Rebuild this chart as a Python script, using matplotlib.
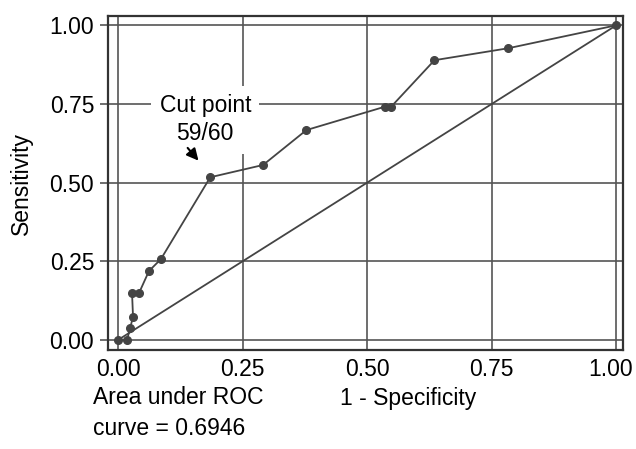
import matplotlib
matplotlib.use("Agg")
import matplotlib.pyplot as plt
import matplotlib.transforms as mtransforms

plt.rcParams["font.family"] = ["Liberation Sans", "DejaVu Sans"]

# ROC points
fpr = [0.0, 0.018, 0.024, 0.030, 0.028, 0.042, 0.062, 0.086,
       0.185, 0.291, 0.378, 0.535, 0.548, 0.635, 0.783, 1.0]
tpr = [0.0, 0.0, 0.037, 0.073, 0.149, 0.149, 0.219, 0.257,
       0.517, 0.556, 0.667, 0.741, 0.741, 0.889, 0.927, 1.0]
ticks = [0.0, 0.25, 0.5, 0.75, 1.0]
tick_labels = ["0.00", "0.25", "0.50", "0.75", "1.00"]
auc_text = "Area under ROC\ncurve = 0.6946"
cut_text = "Cut point\n59/60"

ink = "#444444"
fig = plt.figure(figsize=(6.36, 4.49), dpi=100)
ax = fig.add_axes([0.170, 0.2205, 0.810, 0.7435])

ax.set_xlim(-0.02, 1.014)
ax.set_ylim(-0.032, 1.029)
ax.set_xticks(ticks)
ax.set_yticks(ticks)
ax.set_xticklabels(tick_labels)
ax.set_yticklabels(tick_labels)
ax.grid(True, color="#555555", lw=1.2)
ax.set_axisbelow(True)
ax.tick_params(axis="both", labelsize=16.5, length=6, width=1.2, color="#555555", pad=4)
ax.tick_params(axis="x", length=0, pad=6)
for sp in ax.spines.values():
    sp.set_color("#333333")
    sp.set_linewidth(1.6)

# last x label sits a bit left of its gridline so it stays inside the figure
last = ax.get_xticklabels()[-1]
last.set_transform(last.get_transform()
                   + mtransforms.ScaledTranslation(-6 / 100, 0, fig.dpi_scale_trans))

ax.plot([0, 1], [0, 1], color=ink, lw=1.3, zorder=3)
ax.plot(fpr, tpr, color=ink, lw=1.3, marker="o", ms=5.5, zorder=4)

ax.text(0.175, 0.70, cut_text, ha="center", va="center", fontsize=16.5,
        linespacing=1.3, zorder=5,
        bbox=dict(facecolor="white", edgecolor="none", pad=6))
ax.annotate("", xy=(0.165, 0.563), xytext=(0.136, 0.617),
            arrowprops=dict(arrowstyle="-|>,head_length=0.7,head_width=0.35",
                            color="black", lw=1.5), zorder=6)

ax.set_ylabel("Sensitivity", fontsize=16.5, labelpad=12)
fig.text(340 / 636, 1 - 398 / 449, "1 - Specificity", fontsize=16.5,
         ha="left", va="center")
fig.text(93 / 636, 1 - 413 / 449, auc_text, fontsize=16.5, ha="left",
         va="center", linespacing=1.45)

fig.savefig("out.png", dpi=100)
